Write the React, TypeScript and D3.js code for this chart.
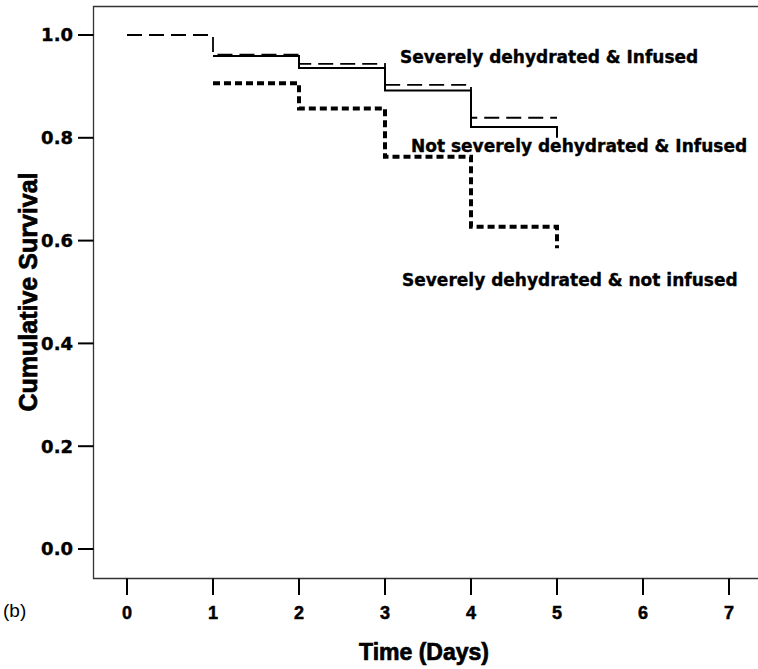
import React from "react";
import * as d3 from "d3";

const xTicks = [0, 1, 2, 3, 4, 5, 6, 7];
const yTicks = [0.0, 0.2, 0.4, 0.6, 0.8, 1.0];

// Severely dehydrated & Infused (dashed)
const severeInfusedTimes = [0, 1, 2, 3, 4, 5];
const severeInfusedSurv = [1.0, 0.962, 0.944, 0.903, 0.839, 0.839];

// Not severely dehydrated & Infused (solid)
const notSevereInfusedTimes = [1, 2, 3, 4, 5];
const notSevereInfusedSurv = [0.959, 0.936, 0.892, 0.821, 0.8];

// Severely dehydrated & not infused (dotted)
const severeNotInfusedTimes = [1, 2, 3, 4, 5];
const severeNotInfusedSurv = [0.906, 0.857, 0.763, 0.627, 0.585];

const W = 758;
const H = 669;

export default function App() {
  const x = d3.scaleLinear().domain([0, 7]).range([127, 729]);
  const y = d3.scaleLinear().domain([0, 1]).range([549, 35]);
  const line = d3
    .line<[number, number]>()
    .x((d) => x(d[0]))
    .y((d) => y(d[1]))
    .curve(d3.curveStepAfter);

  const mk = (t: number[], s: number[]) =>
    line(t.map((v, i) => [v, s[i]] as [number, number])) || "";

  const frameLeft = 93.5;
  const frameTop = 6.5;
  const frameBottom = 578.5;
  const labelFont = "'DejaVu Sans', Verdana, sans-serif";
  const narrow = "'Liberation Sans Narrow', 'Arial Narrow', sans-serif";

  return (
    <svg
      width={W}
      height={H}
      style={{ position: "absolute", left: 0, top: 0, background: "#fff" }}
    >
      <rect x={0} y={0} width={W} height={H} fill="#fff" />
      {/* frame */}
      <path
        d={`M${W + 2},${frameTop}H${frameLeft}V${frameBottom}H${W + 2}`}
        fill="none"
        stroke="#333"
        strokeWidth={1.3}
      />
      {/* y ticks */}
      {yTicks.map((t) => (
        <g key={"y" + t}>
          <line x1={78} x2={frameLeft} y1={y(t)} y2={y(t)} stroke="#000" strokeWidth={2} />
          <text
            x={73}
            y={y(t)}
            dy="0.36em"
            textAnchor="end"
            fontFamily={labelFont}
            fontWeight="bold"
            fontSize={18}
            fill="#000"
            stroke="#000"
            strokeWidth={0.4}
          >
            {t.toFixed(1)}
          </text>
        </g>
      ))}
      {/* x ticks */}
      {xTicks.map((t) => (
        <g key={"x" + t}>
          <line x1={x(t)} x2={x(t)} y1={frameBottom} y2={595} stroke="#000" strokeWidth={2} />
          <text
            x={x(t)}
            y={619}
            textAnchor="middle"
            fontFamily={narrow}
            fontWeight="bold"
            fontSize={18}
            fill="#000"
            stroke="#000"
            strokeWidth={0.5}
          >
            {t}
          </text>
        </g>
      ))}
      {/* curves */}
      <path
        d={mk(severeInfusedTimes, severeInfusedSurv)}
        fill="none"
        stroke="#000"
        strokeWidth={1.8}
        strokeDasharray="15,7"
      />
      <path
        d={mk(notSevereInfusedTimes, notSevereInfusedSurv)}
        fill="none"
        stroke="#000"
        strokeWidth={2}
      />
      <path
        d={mk(severeNotInfusedTimes, severeNotInfusedSurv)}
        fill="none"
        stroke="#000"
        strokeWidth={4}
        strokeDasharray="7,4"
      />
      {/* curve labels */}
      <g fontFamily={labelFont} fontWeight="bold" fontSize={17} fill="#000" stroke="#000" strokeWidth={0.35}>
        <text x={400} y={63}>Severely dehydrated &amp; Infused</text>
        <text x={411} y={152}>Not severely dehydrated &amp; Infused</text>
        <text x={402} y={286}>Severely dehydrated &amp; not infused</text>
      </g>
      {/* axis titles */}
      <text
        x={424}
        y={660}
        textAnchor="middle"
        fontFamily={narrow}
        fontWeight="bold"
        fontSize={23}
        fill="#000"
        stroke="#000"
        strokeWidth={0.7}
      >
        Time (Days)
      </text>
      <text
        transform={`translate(37,292) rotate(-90)`}
        textAnchor="middle"
        fontFamily={narrow}
        fontWeight="bold"
        fontSize={25}
        fill="#000"
        stroke="#000"
        strokeWidth={0.7}
      >
        Cumulative Survival
      </text>
      <text x={3} y={617} fontFamily="'Liberation Sans', Arial, sans-serif" fontSize={19} fill="#000">
        (b)
      </text>
    </svg>
  );
}
